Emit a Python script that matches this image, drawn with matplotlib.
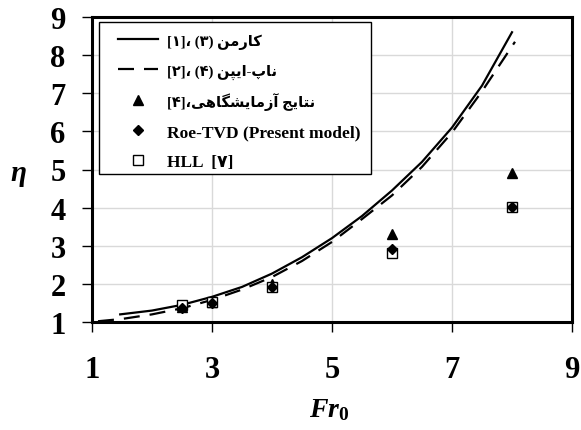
import matplotlib
matplotlib.use("Agg")
import matplotlib.pyplot as plt
from matplotlib.patches import Rectangle

# ---------------- data ----------------
karman_x = [1.47, 2.0, 2.5, 3.0, 3.5, 4.0, 4.5, 5.0, 5.5, 6.0, 6.5, 7.0, 7.5, 8.0]
karman_y = [1.20, 1.30, 1.45, 1.66, 1.92, 2.27, 2.70, 3.20, 3.78, 4.45, 5.20, 6.10, 7.20, 8.60]

knapp_x = [1.10, 1.5, 2.0, 2.5, 3.0, 3.5, 4.0, 4.5, 5.0, 5.5, 6.0, 6.5, 7.0, 7.5, 8.05]
knapp_y = [1.02, 1.08, 1.20, 1.36, 1.58, 1.85, 2.18, 2.60, 3.10, 3.70, 4.32, 5.07, 5.97, 7.05, 8.35]

exp_x = [2.5, 3.0, 4.0, 6.0, 8.0]
exp_y = [1.40, 1.53, 2.00, 3.31, 4.91]

roe_x = [2.5, 3.0, 4.0, 6.0, 8.0]
roe_y = [1.37, 1.50, 1.92, 2.92, 4.02]

hll_x = [2.5, 3.0, 4.0, 6.0, 8.0]
hll_y = [1.45, 1.52, 1.93, 2.81, 4.02]

labels = ["کارمن (۳) ،[۱]", "ناپ-ایپن (۴) ،[۲]", "نتایج آزمایشگاهی،[۴]",
          "Roe-TVD (Present model)", "HLL  [۷]"]
x_ticks = [1, 3, 5, 7, 9]
y_ticks = [1, 2, 3, 4, 5, 6, 7, 8, 9]

# ------------- minimal Arabic/Persian shaping for display -------------
FORMS = {  # isolated, final, initial, medial
    'ا': ('\uFE8D', '\uFE8E', None, None),
    'آ': ('\uFE81', '\uFE82', None, None),
    'ر': ('\uFEAD', '\uFEAE', None, None),
    'ز': ('\uFEAF', '\uFEB0', None, None),
    'م': ('\uFEE1', '\uFEE2', '\uFEE3', '\uFEE4'),
    'ن': ('\uFEE5', '\uFEE6', '\uFEE7', '\uFEE8'),
    'ت': ('\uFE95', '\uFE96', '\uFE97', '\uFE98'),
    'ج': ('\uFE9D', '\uFE9E', '\uFE9F', '\uFEA0'),
    'ش': ('\uFEB5', '\uFEB6', '\uFEB7', '\uFEB8'),
    'ه': ('\uFEE9', '\uFEEA', '\uFEEB', '\uFEEC'),
    'ک': ('\uFB8E', '\uFB8F', '\uFB90', '\uFB91'),
    'گ': ('\uFB92', '\uFB93', '\uFB94', '\uFB95'),
    'پ': ('\uFB56', '\uFB57', '\uFB58', '\uFB59'),
    'ی': ('\uFBFC', '\uFBFD', '\uFBFE', '\uFBFF'),
}
MIRROR = {'(': ')', ')': '(', '[': ']', ']': '['}


def rtl(s):
    if not any(c in FORMS for c in s):
        return s
    out = []
    for i, c in enumerate(s):
        if c not in FORMS:
            out.append(c)
            continue
        prev = s[i - 1] if i > 0 else ''
        nxt = s[i + 1] if i + 1 < len(s) else ''
        jp = prev in FORMS and FORMS[prev][2] is not None
        jn = FORMS[c][2] is not None and nxt in FORMS
        f = FORMS[c]
        if jp and jn:
            g = f[3]
        elif jp:
            g = f[1]
        elif jn:
            g = f[2]
        else:
            g = f[0]
        out.append(g)
    return ''.join(MIRROR.get(c, c) for c in reversed(out))


FAM = ['Liberation Serif', 'DejaVu Sans']
plt.rcParams['font.family'] = FAM
plt.rcParams['font.weight'] = 'bold'
plt.rcParams['mathtext.fontset'] = 'custom'
plt.rcParams['mathtext.it'] = 'Liberation Serif:italic:bold'
plt.rcParams['mathtext.rm'] = 'Liberation Serif:bold'
plt.rcParams['mathtext.bf'] = 'Liberation Serif:bold'

W, H = 581, 431
fig = plt.figure(figsize=(W / 100, H / 100), dpi=100)
L, R, T, B = 92, 572, 18, 323
ax = fig.add_axes([L / W, 1 - B / H, (R - L) / W, (B - T) / H])

LW = 1.6
ax.plot(karman_x, karman_y, color='black', lw=LW, label=rtl(labels[0]))
ax.plot(knapp_x, knapp_y, color='black', lw=LW, dashes=(7.2, 4.5), label=rtl(labels[1]))
ax.plot(exp_x, exp_y, ls='none', marker='^', ms=7.5, color='black', label=rtl(labels[2]))
ax.plot(hll_x, hll_y, ls='none', marker='s', ms=7.5, mfc='white', mec='black', mew=1.0,
        label=rtl(labels[4]), zorder=3)
ax.plot(roe_x, roe_y, ls='none', marker='D', ms=5.5, color='black', label=rtl(labels[3]), zorder=4)

ax.set_xlim(1, 9)
ax.set_ylim(1, 9)
ax.set_xticks(x_ticks)
ax.set_yticks(y_ticks)
ax.grid(True, color='#d9d9d9', lw=1.0)
ax.set_axisbelow(True)
for sp in ax.spines.values():
    sp.set_linewidth(2.2)
ax.tick_params(direction='out', length=7, width=1.0, labelsize=22)
ax.tick_params(axis='x', pad=17)
ax.tick_params(axis='y', pad=12)
for t in ax.get_xticklabels() + ax.get_yticklabels():
    t.set_fontweight('bold')

ax.set_xlabel(r'$Fr_{\mathbf{0}}$', fontsize=20)
ax.xaxis.set_label_coords((329 - L) / (R - L), -(397 - B) / (B - T))
ax.set_ylabel(r'$\eta$', fontsize=21, rotation=0, ha='center', va='center')
ax.yaxis.set_label_coords((18 - L) / (R - L), (B - 176) / (B - T))

# legend frame
ax.add_patch(Rectangle(((99 - L) / (R - L), (B - 175) / (B - T)),
                       (371 - 99) / (R - L), (175 - 23) / (B - T),
                       transform=ax.transAxes, facecolor='white', edgecolor='black',
                       lw=1.0, zorder=4.5))

handles, lbls = ax.get_legend_handles_labels()
order = [0, 1, 2, 4, 3]
leg = ax.legend([handles[i] for i in order], [lbls[i] for i in order],
                loc='upper left', bbox_to_anchor=((118 - L) / (R - L), (B - 34) / (B - T)),
                prop={'family': FAM, 'weight': 'bold', 'size': 12.5},
                handlelength=2.3, handletextpad=0.52, labelspacing=0.78,
                borderpad=0.0, borderaxespad=0.0, frameon=False)
leg.set_zorder(5)
for txt in leg.get_texts():
    if any('\uFB50' <= c <= '\uFEFF' for c in txt.get_text()):
        txt.set_fontsize(10.5)

fig.savefig('out.png', dpi=100)
